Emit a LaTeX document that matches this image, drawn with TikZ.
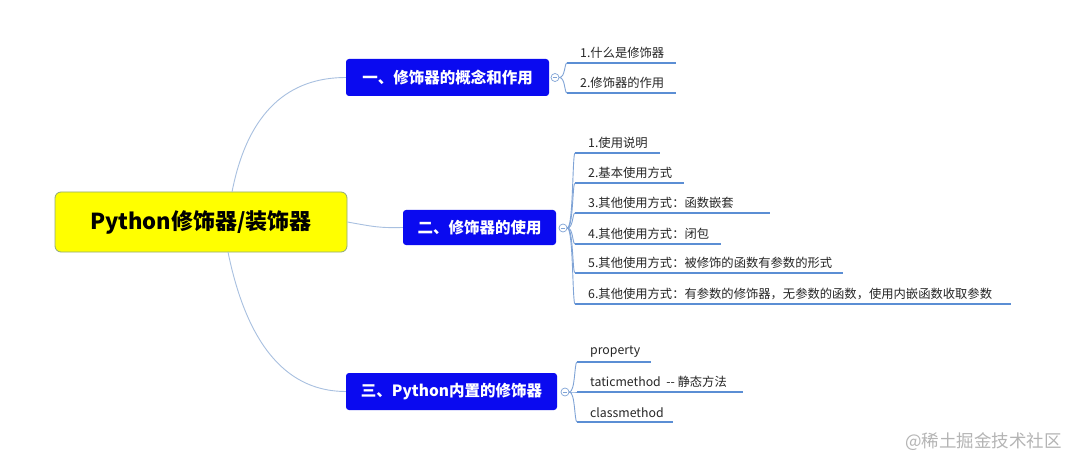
\documentclass[tikz,border=0pt]{standalone}
\usepackage{fontspec}
\setmainfont{Noto Sans CJK SC}
\usetikzlibrary{calc}
\definecolor{bluebox}{HTML}{0A0AF0}
\definecolor{rootfill}{HTML}{FFFF00}
\definecolor{rootline}{HTML}{8FA87A}
\definecolor{mainline}{HTML}{A8C0E0}
\definecolor{uline}{HTML}{5B8ED4}
\definecolor{subline}{HTML}{7FA3D6}
\definecolor{wm}{HTML}{B4B4B4}
\tikzset{
  rootbox/.style={draw=rootline, fill=rootfill, rounded corners=6pt, line width=0.8pt,
    minimum width=292pt, minimum height=60pt, font=\fontsize{22}{26}\selectfont\bfseries, inner sep=0pt},
  branchbox/.style={fill=bluebox, rounded corners=3pt, text=white,
    minimum height=37pt, font=\fontsize{15.5}{18}\selectfont\bfseries, inner sep=0pt},
  leaf/.style={anchor=south west, inner xsep=0pt, inner ysep=4pt, font=\fontsize{12.3}{14}\selectfont, text=black!85},
  underl/.style={draw=uline, line width=2.2pt},
  conn/.style={draw=mainline, line width=0.9pt},
  subconn/.style={draw=subline, line width=0.9pt},
  fold/.style={circle, draw=subline, fill=white, line width=0.7pt, minimum size=8pt, inner sep=0pt},
  x=1pt, y=-1pt
}
\begin{document}
\begin{tikzpicture}
\useasboundingbox (0,0) rectangle (1080,468);
\fill[white] (0,0) rectangle (1080,468);

% root
\node[rootbox] (root) at (201,222) {Python修饰器/装饰器};
% branches
\node[branchbox, minimum width=203pt] (b1) at (447.5,77.5) {一、修饰器的概念和作用};
\node[branchbox, minimum width=153pt, minimum height=35pt] (b2) at (479.5,227.5) {二、修饰器的使用};
\node[branchbox, minimum width=211pt] (b3) at (451.5,391.5) {三、Python内置的修饰器};

\coordinate (r1) at (232,192);
\coordinate (r3) at (228,252);
\draw[conn] (r1) .. controls (248,110) and (290,77.5) .. (b1.west);
\draw[conn] (root.east) .. controls (375,227) and (380,228) .. (b2.west);
\draw[conn] (r3) .. controls (248,350) and (290,391.5) .. (b3.west);

% fold markers
\node[fold] (f1) at (555,77.5) {};
\node[fold] (f2) at (563,228) {};
\node[fold] (f3) at (565,392) {};
\foreach \f in {f1,f2,f3}{\draw[subline, line width=0.6pt] ($(\f.center)+(-2.2,0)$) -- ($(\f.center)+(2.2,0)$);}

% leaves branch 1
\coordinate (u11) at (567,63);   \coordinate (e11) at (676,63);
\coordinate (u12) at (567,93);   \coordinate (e12) at (676,93);
\node[leaf] (l11) at (580,63) {1.什么是修饰器};
\node[leaf] (l12) at (580,93) {2.修饰器的作用};

% leaves branch 2
\coordinate (u21) at (575,153);  \coordinate (e21) at (660,153);
\coordinate (u22) at (575,183);  \coordinate (e22) at (684,183);
\coordinate (u23) at (575,213);  \coordinate (e23) at (770,213);
\coordinate (u24) at (575,244);  \coordinate (e24) at (721,244);
\coordinate (u25) at (575,273);  \coordinate (e25) at (843,273);
\coordinate (u26) at (575,304);  \coordinate (e26) at (1011,304);
\node[leaf] (l21) at (588,153) {1.使用说明};
\node[leaf] (l22) at (588,183) {2.基本使用方式};
\node[leaf] (l23) at (588,213) {3.其他使用方式：函数嵌套};
\node[leaf] (l24) at (588,244) {4.其他使用方式：闭包};
\node[leaf] (l25) at (588,273) {5.其他使用方式：被修饰的函数有参数的形式};
\node[leaf] (l26) at (588,304) {6.其他使用方式：有参数的修饰器，无参数的函数，使用内嵌函数收取参数};

% leaves branch 3
\coordinate (u31) at (577,362);  \coordinate (e31) at (651,362);
\coordinate (u32) at (577,392);  \coordinate (e32) at (743,392);
\coordinate (u33) at (577,422);  \coordinate (e33) at (673,422);
\node[leaf] (l31) at (590,362) {property};
\node[leaf] (l32) at (590,392) {taticmethod\ \ -{}- 静态方法};
\node[leaf] (l33) at (590,422) {classmethod};

% underlines and sub-connectors
\foreach \i/\f in {11/f1,12/f1,21/f2,22/f2,23/f2,24/f2,25/f2,26/f2,31/f3,32/f3,33/f3}{
  \draw[underl] (u\i) -- (e\i);
  \path let \p1=(\f.east), \p2=(u\i) in
    coordinate (m\i) at (\x1+5,\y2);
  \draw[subconn] (\f.east) .. controls ($(\f.east)+(6,0)$) and ($(m\i)+(0,0)$) .. (u\i);
}

% watermark
\node[text=wm, font=\fontsize{17.5}{19}\selectfont, anchor=west, inner sep=0pt] (wmk) at (905,442) {@稀土掘金技术社区};
\end{tikzpicture}
\end{document}
